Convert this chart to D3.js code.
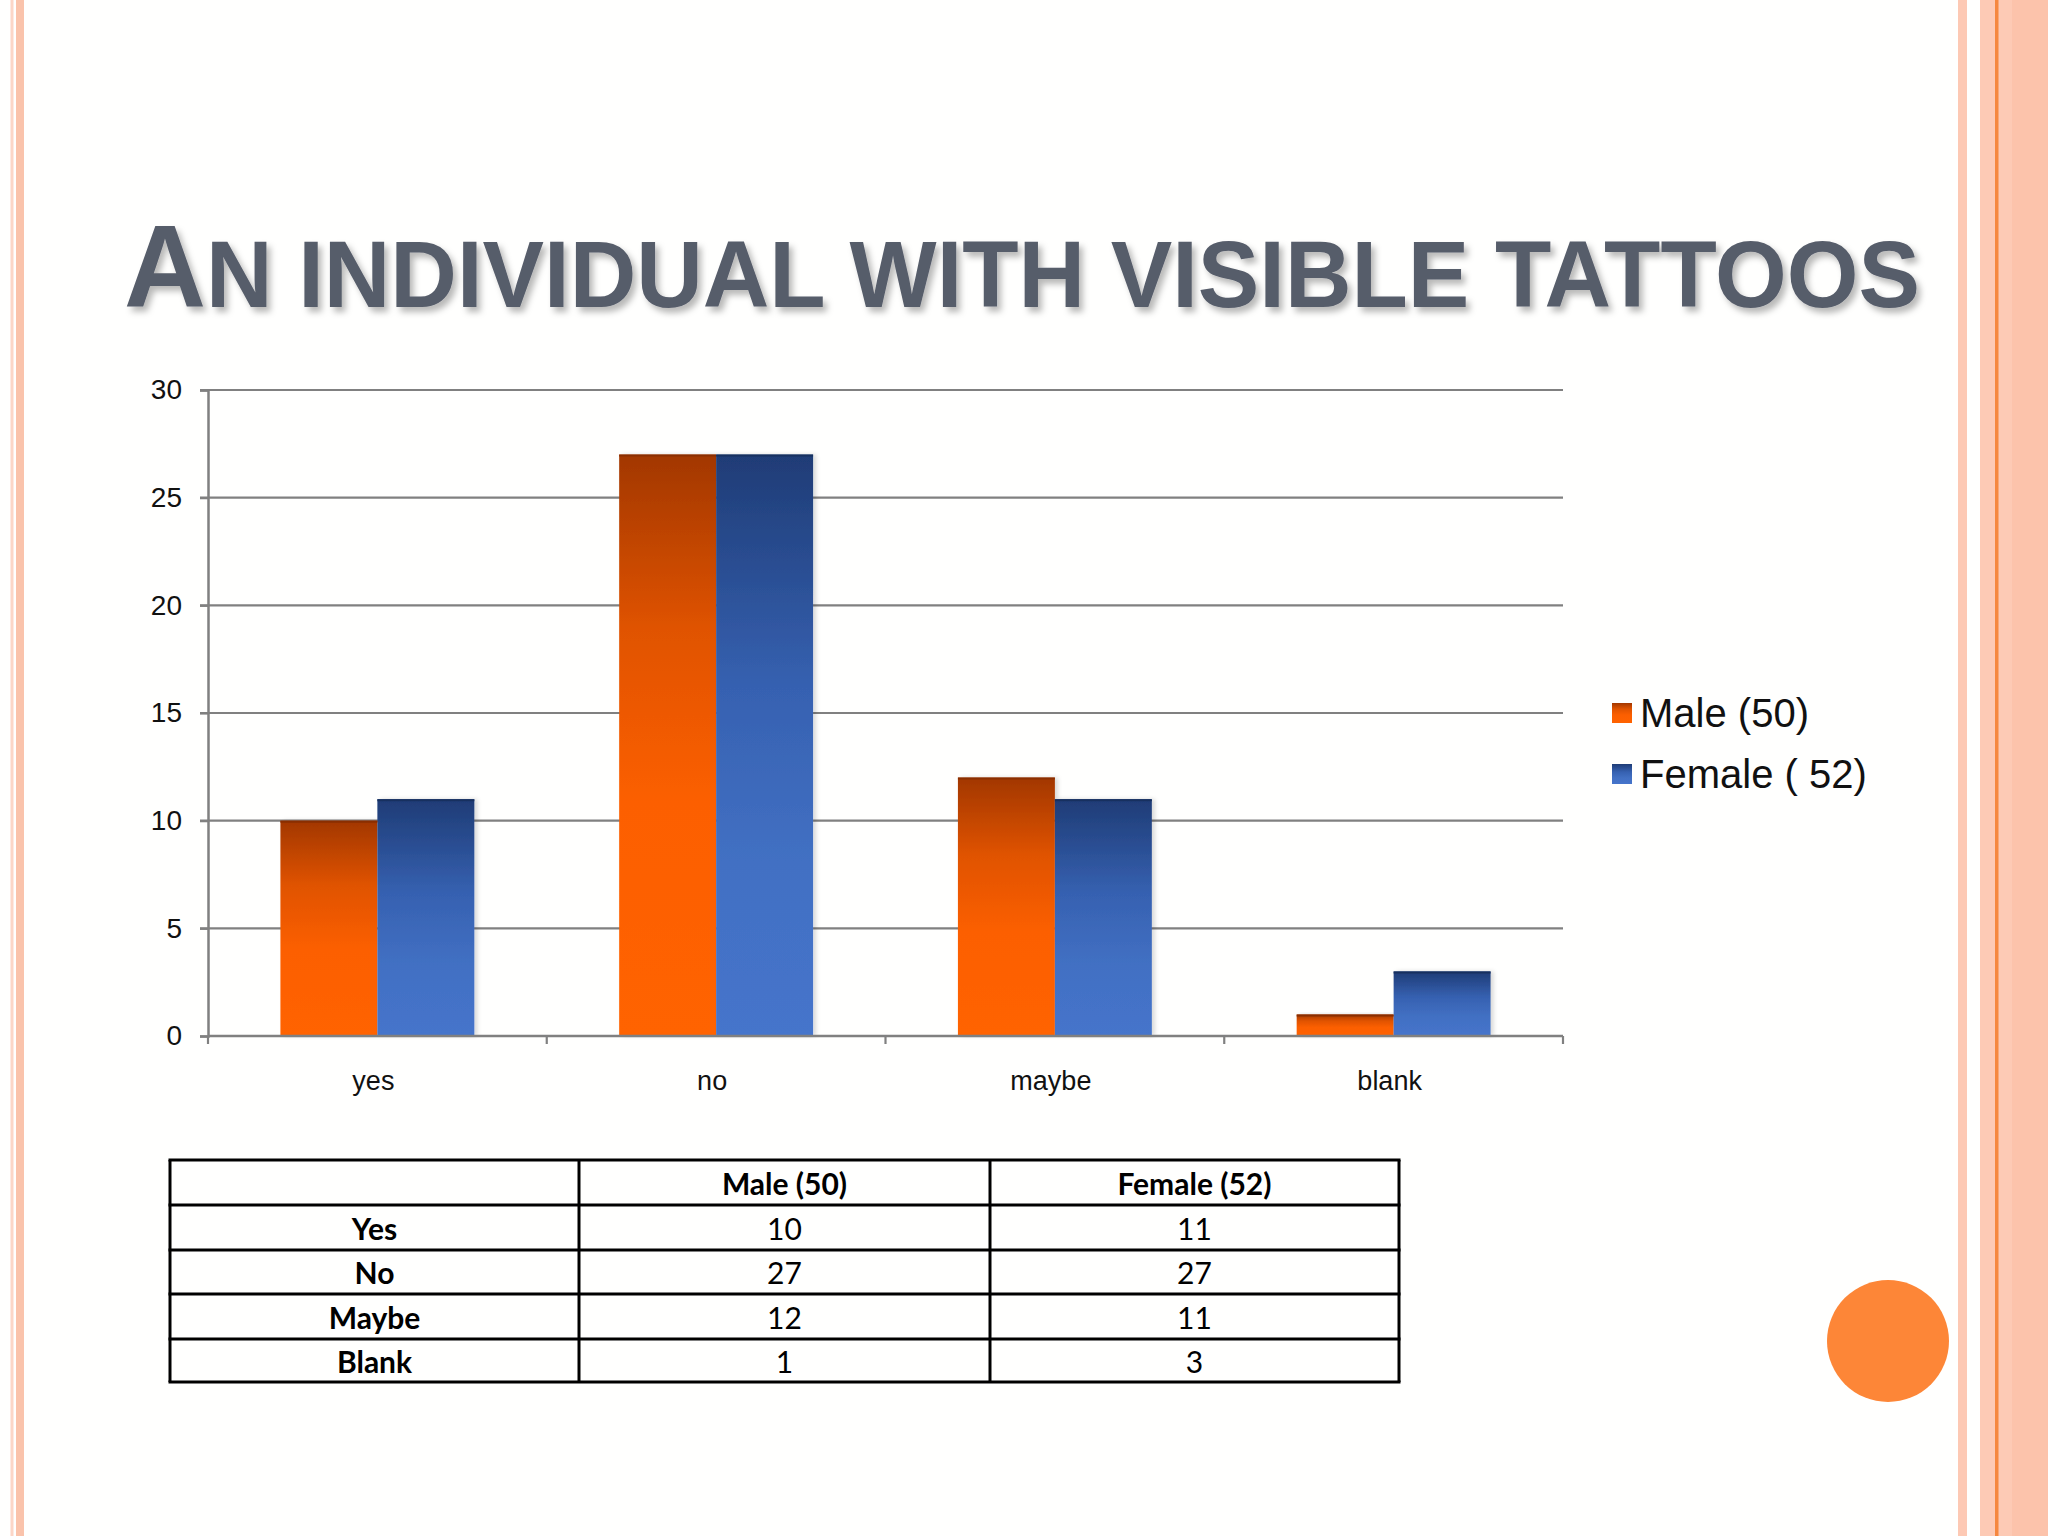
<!DOCTYPE html>
<html><head><meta charset="utf-8">
<script src="https://cdn.jsdelivr.net/npm/d3@7"></script>
<style>html,body{margin:0;padding:0;background:#fffffe;}svg{display:block;}</style>
</head><body>
<script>
const categories = ["yes", "no", "maybe", "blank"];
const seriesNames = ["Male (50)", "Female ( 52)"];
const maleValues = [10, 27, 12, 1];
const femaleValues = [11, 27, 11, 3];
const yTicks = [0, 5, 10, 15, 20, 25, 30];
const tableHeader = ["", "Male (50)", "Female (52)"];
const tableRowLabels = ["Yes", "No", "Maybe", "Blank"];
const tableMale = ["10", "27", "12", "1"];
const tableFemale = ["11", "27", "11", "3"];

const W = 2048, H = 1536;
const svg = d3.select("body").append("svg").attr("width", W).attr("height", H);
const defs = svg.append("defs");

// background + borders
svg.append("rect").attr("width", W).attr("height", H).attr("fill", "#fffffe");
svg.append("rect").attr("x", 10.5).attr("y", 0).attr("width", 3).attr("height", H).attr("fill", "#fcd6c7");
svg.append("rect").attr("x", 16).attr("y", 0).attr("width", 8).attr("height", H).attr("fill", "#fac3ab");
svg.append("rect").attr("x", 1958).attr("y", 0).attr("width", 9).attr("height", H).attr("fill", "#fdc9b4");
svg.append("rect").attr("x", 1980).attr("y", 0).attr("width", 68).attr("height", H).attr("fill", "#fdcab5");
svg.append("rect").attr("x", 2012).attr("y", 0).attr("width", 36).attr("height", H).attr("fill", "#fcc3ab");
svg.append("rect").attr("x", 1995).attr("y", 0).attr("width", 3.5).attr("height", H).attr("fill", "#f6883f");

// circle
svg.append("circle").attr("cx", 1888).attr("cy", 1341).attr("r", 61).attr("fill", "#fd8637");

// title
const tf = defs.append("filter").attr("id", "tshadow").attr("x", "-5%").attr("y", "-20%").attr("width", "110%").attr("height", "150%");
tf.append("feDropShadow").attr("dx", 4).attr("dy", 5).attr("stdDeviation", 3).attr("flood-color", "#000").attr("flood-opacity", 0.28);
const title = svg.append("text").attr("x", 124).attr("y", 307)
  .attr("font-family", "'Liberation Sans', Arial, sans-serif").attr("font-weight", "bold")
  .attr("fill", "#575d6a").attr("filter", "url(#tshadow)")
  .attr("textLength", 1796).attr("lengthAdjust", "spacingAndGlyphs");
title.append("tspan").attr("font-size", 117).text("A");
title.append("tspan").attr("font-size", 95).text("N INDIVIDUAL WITH VISIBLE TATTOOS");

// gradients
function grad(id, stops) {
  const g = defs.append("linearGradient").attr("id", id).attr("x1", 0).attr("y1", 0).attr("x2", 0).attr("y2", 1);
  stops.forEach(([o, c]) => g.append("stop").attr("offset", o).attr("stop-color", c));
}
grad("gMale", [["0%", "#a23700"], ["30%", "#e05300"], ["60%", "#fc5f00"], ["100%", "#ff6300"]]);
grad("gFemale", [["0%", "#1f3c76"], ["40%", "#3661b1"], ["70%", "#4270c3"], ["100%", "#4574cb"]]);
const bs = defs.append("filter").attr("id", "bshadow").attr("x", "-10%").attr("y", "-10%").attr("width", "130%").attr("height", "120%");
bs.append("feDropShadow").attr("dx", 3).attr("dy", 0).attr("stdDeviation", 2).attr("flood-color", "#000").attr("flood-opacity", 0.15);

// scales
const x0 = d3.scaleBand().domain(categories).range([208, 1563]).paddingInner(0).paddingOuter(0);
const x1 = d3.scaleBand().domain(seriesNames).range([0, x0.bandwidth()]).paddingInner(0).paddingOuter(0.747);
const y = d3.scaleLinear().domain([0, 30]).range([1036, 390]);

const axisFont = "'Liberation Sans', Arial, sans-serif";

// gridlines
svg.append("g").selectAll("line").data(yTicks.filter(d => d > 0)).join("line")
  .attr("x1", 200).attr("x2", 1563).attr("y1", d => y(d)).attr("y2", d => y(d))
  .attr("stroke", "#808080").attr("stroke-width", 2.2);

// y axis
const yAxis = svg.append("g").attr("transform", "translate(208,0)")
  .call(d3.axisLeft(y).tickValues(yTicks).tickSize(8).tickPadding(18));
yAxis.select(".domain").attr("stroke", "#808080").attr("stroke-width", 2.5);
yAxis.selectAll(".tick line").attr("stroke", "#808080").attr("stroke-width", 2.2);
yAxis.selectAll(".tick text").attr("font-family", axisFont).attr("font-size", 28).attr("fill", "#111");

// bars
const data = categories.map((c, i) => ({cat: c, vals: [maleValues[i], femaleValues[i]]}));
const groups = svg.append("g").selectAll("g").data(data).join("g")
  .attr("transform", d => `translate(${x0(d.cat)},0)`);
groups.selectAll("rect").data(d => d.vals.map((v, j) => ({s: seriesNames[j], v, j}))).join("rect")
  .attr("x", d => x1(d.s)).attr("width", x1.bandwidth())
  .attr("y", d => y(d.v)).attr("height", d => y(0) - y(d.v))
  .attr("fill", d => d.j === 0 ? "url(#gMale)" : "url(#gFemale)")
  .attr("filter", "url(#bshadow)");
groups.selectAll("line.top").data(d => d.vals.map((v, j) => ({s: seriesNames[j], v, j}))).join("line")
  .attr("class", "top")
  .attr("x1", d => x1(d.s)).attr("x2", d => x1(d.s) + x1.bandwidth())
  .attr("y1", d => y(d.v) + 1).attr("y2", d => y(d.v) + 1)
  .attr("stroke", d => d.j === 0 ? "#8a2e00" : "#17305f").attr("stroke-width", 2);

// x axis
const xb = svg.append("g");
xb.append("line").attr("x1", 208).attr("x2", 1563).attr("y1", y(0)).attr("y2", y(0))
  .attr("stroke", "#808080").attr("stroke-width", 2.5);
const bounds = categories.map(c => x0(c)).concat([x0(categories[categories.length - 1]) + x0.bandwidth()]);
xb.selectAll("line.t").data(bounds).join("line").attr("class", "t")
  .attr("x1", d => d).attr("x2", d => d).attr("y1", y(0)).attr("y2", y(0) + 8)
  .attr("stroke", "#808080").attr("stroke-width", 2.2);
const xAxis = svg.append("g").attr("transform", `translate(-4,${y(0)})`)
  .call(d3.axisBottom(x0).tickSize(0).tickPadding(35));
xAxis.select(".domain").remove();
xAxis.selectAll(".tick text").attr("font-family", axisFont).attr("font-size", 27).attr("fill", "#111");

// legend
const lg = svg.append("g").selectAll("g").data(seriesNames).join("g")
  .attr("transform", (d, i) => `translate(1612,${703 + i * 61})`);
lg.append("rect").attr("width", 20).attr("height", 20).attr("fill", (d, i) => i === 0 ? "url(#gMale)" : "url(#gFemale)");
lg.append("text").attr("x", 28).attr("y", 24).attr("font-family", axisFont).attr("font-size", 40)
  .attr("fill", "#111").text(d => d);

// table
const colX = [170, 579, 990, 1399];
const rowY = [1160, 1205, 1250, 1294, 1339, 1382];
const tFont = "Lato, 'Open Sans', sans-serif";
const rows = [tableHeader].concat(tableRowLabels.map((r, i) => [r, tableMale[i], tableFemale[i]]));
const tg = svg.append("g");
rows.forEach((row, ri) => {
  row.forEach((cell, ci) => {
    tg.append("text")
      .attr("x", (colX[ci] + colX[ci + 1]) / 2)
      .attr("y", (rowY[ri] + rowY[ri + 1]) / 2 + 12)
      .attr("text-anchor", "middle").attr("font-family", tFont).attr("font-size", 30)
      .attr("font-weight", (ri === 0 || ci === 0) ? "bold" : "normal")
      .attr("fill", "#000").text(cell);
  });
});
tg.selectAll("line.h").data(rowY).join("line").attr("class", "h")
  .attr("x1", colX[0] - 1.5).attr("x2", colX[3] + 1.5).attr("y1", d => d).attr("y2", d => d)
  .attr("stroke", "#000").attr("stroke-width", 3);
tg.selectAll("line.v").data(colX).join("line").attr("class", "v")
  .attr("x1", d => d).attr("x2", d => d).attr("y1", rowY[0]).attr("y2", rowY[5])
  .attr("stroke", "#000").attr("stroke-width", 3);
</script>
</body></html>
